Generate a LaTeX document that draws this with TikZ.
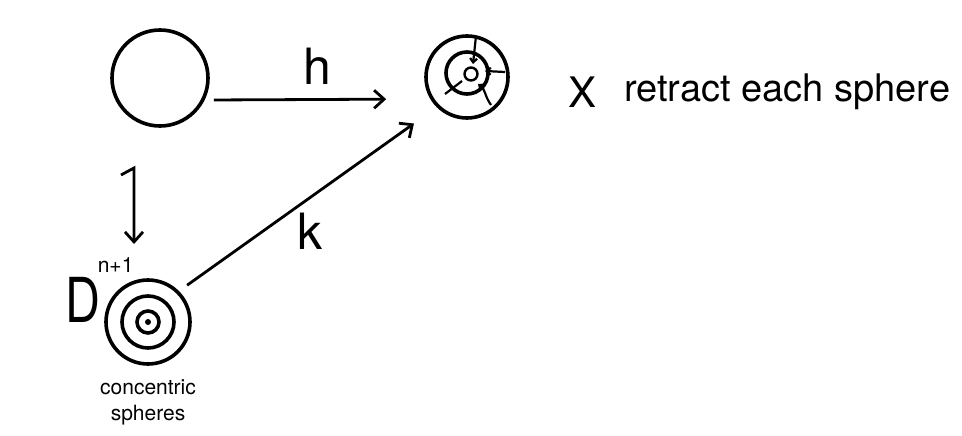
\documentclass[tikz,border=0pt]{standalone}
\usepackage{fontspec}
\setmainfont{TeX Gyre Heros}
\usetikzlibrary{arrows.meta, positioning}

\begin{document}
\begin{tikzpicture}[
        x=1pt, y=-1pt,
        every node/.style={align=center, inner sep=0pt},
        ball/.style={draw, circle, inner sep=0pt, line width=3.6pt},
        arrow/.style={line width=2.8pt, -{Straight Barb[length=10pt, width=18pt, line width=2.8pt]}},
        tick/.style={line width=2.2pt, -{Straight Barb[length=4pt, width=7pt, line width=2.2pt]}},
        big/.style={font=\fontsize{50}{52}\selectfont},
        label/.style={font=\fontsize{38}{40}\selectfont},
        small/.style={font=\fontsize{21}{26}\selectfont}
    ]
        \useasboundingbox (0,0) rectangle (962,436);

        % spaces
        \node[ball, minimum size=96pt] (sph) at (160,78) {};
        \node[ball, minimum size=82pt] (xsp) at (467,77) {};
        \node[ball, minimum size=84pt] (disk) at (148,322) {};

        % concentric spheres in the disk
        \node[ball, minimum size=52pt] (mid) at (disk) {};
        \node[ball, minimum size=22pt] (core) at (disk) {};
        \fill (disk) circle (3pt);

        % retraction inside X
        \node[ball, minimum size=42pt] (xin) at (467,73) {};
        \node[ball, minimum size=13pt, line width=2.4pt] (xpt) at (471,74) {};
        \draw[tick] (476,36) -- (473,64);
        \draw[tick] (505,72) -- (485,71);
        \draw[line width=2.2pt] (445,94) -- (462,81);
        \draw[tick] (491,105) .. controls (484,95) and (486,90) .. (478,84);

        % maps
        \draw[arrow, shorten <=4pt, shorten >=38pt] ([yshift=-22pt]sph.east) -- ([yshift=-22pt]xsp.west)
            node[big, midway, above=14pt] (hlab) {h};
        \coordinate (i0) at (121,175);
        \coordinate (i1) at (134,168);
        \coordinate (i2) at (134,244);
        \draw[arrow] (i0) -- (i1) -- (i2);
        \draw[arrow, shorten <=10pt, shorten >=28pt] (disk.north east) -- (xsp.south west)
            node[big, pos=0.51, below=14pt] (klab) {k};

        % labels
        \node[font=\fontsize{42}{44}\selectfont] (xlab) at (583,92) {X};
        \node[label, anchor=west] (note) at (624,92) {retract each sphere};
        \node[font=\fontsize{62}{64}\selectfont, xscale=0.78] (dlab) at (83,300) {D};
        \node[small, anchor=south west] (dexp) at ([xshift=-3pt, yshift=5pt]dlab.north east) {n+1};
        \node[small, below=14pt of disk] (clab) {concentric\\spheres};
    \end{tikzpicture}
\end{document}
